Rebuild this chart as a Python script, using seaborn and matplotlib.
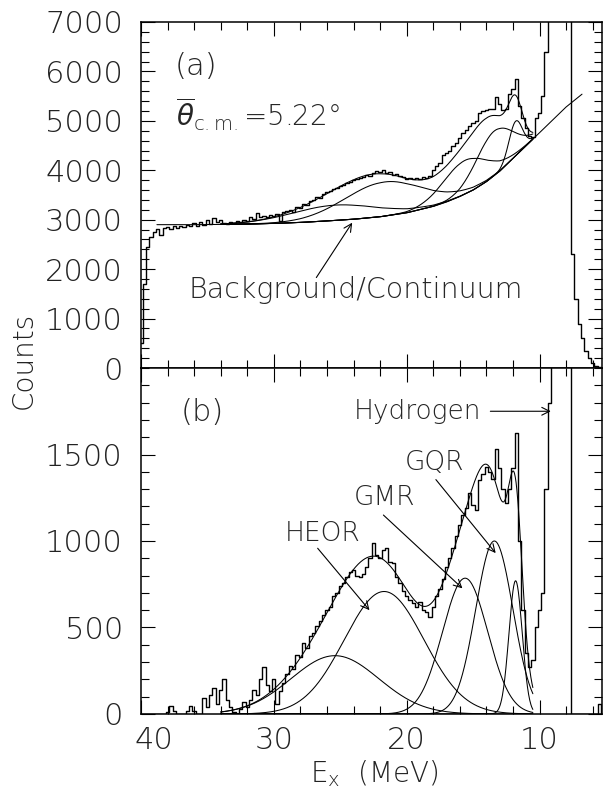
import numpy as np
import pandas as pd
import matplotlib
matplotlib.use("Agg")
import matplotlib.pyplot as plt
import seaborn as sns
from matplotlib.ticker import MultipleLocator, FixedLocator

sns.set_style("ticks")
plt.rcParams['font.family'] = ['DejaVu Sans']
plt.rcParams['font.weight'] = 'light'
plt.rcParams['mathtext.fontset'] = 'dejavusans'

# ---------------- data ----------------
# histogram bin centres (MeV), 40.0 down to 5.25 in 0.25 MeV steps
energy_bins = np.round(np.arange(40.0, 5.2, -0.25), 2)

# (a) raw spectrum counts, one row per MeV (4 bins each)
spectrum_a = [
    500, 1700, 2450, 2650,
    2750, 2820, 2700, 2830,
    2850, 2820, 2870, 2840,
    2880, 2860, 2900, 2870,
    2930, 2880, 2960, 2900,
    3000, 2920, 3040, 2950,
    2990, 2930, 2920, 2950,
    2930, 2970, 2950, 3000,
    2980, 3050, 3020, 3130,
    3060, 3080, 3050, 3100,
    3070, 3120, 2980, 3150,
    3180, 3200, 3160, 3260,
    3240, 3320, 3300, 3380,
    3400, 3450, 3430, 3520,
    3560, 3580, 3620, 3650,
    3680, 3700, 3750, 3760,
    3800, 3820, 3850, 3870,
    3900, 3890, 3940, 3990,
    3960, 4000, 3950, 3960,
    3900, 3920, 3880, 3860,
    3830, 3850, 3820, 3840,
    3830, 3860, 3850, 3880,
    4000, 4080, 4150, 4300,
    4340, 4400, 4500, 4560,
    4650, 4760, 4820, 4900,
    4950, 5000, 5150, 5200,
    5220, 5250, 5230, 5480,
    5350, 5220, 5230, 5550,
    5650, 5850, 5300, 5050,
    4850, 4700, 4680, 5050,
    5150, 5500, 6400, 7600,
    9000, 9000, 9000, 9000,
    9000, 9000, 2300, 1400,
    900, 600, 350, 200,
    100, 40, 15, 0,
]

# (b) background-subtracted spectrum counts
spectrum_b = [
    0, 0, 0, 0,
    0, 0, 0, 0,
    10, 45, 20, 0,
    0, 0, 15, 48,
    20, 0, 0, 90,
    40, 110, 150, 60,
    140, 200, 80, 40,
    10, 0, 30, 70,
    40, 80, 140, 110,
    200, 270, 170, 130,
    200, 60, 130, 180,
    230, 280, 260, 340,
    330, 410, 380, 450,
    470, 510, 540, 570,
    600, 620, 680, 700,
    740, 760, 790, 820,
    830, 800, 790, 810,
    850, 900, 990, 920,
    900, 950, 960, 880,
    870, 790, 760, 710,
    680, 660, 640, 620,
    650, 600, 590, 560,
    620, 680, 720, 780,
    850, 900, 960, 1030,
    1090, 1150, 1190, 1280,
    1210, 1180, 1350, 1390,
    1430, 1400, 1360, 1530,
    1420, 1300, 1220, 1300,
    1420, 1625, 1000, 600,
    350, 270, 310, 500,
    600, 700, 1300, 1800,
    5000, 5000, 5000, 5000,
    5000, 5000, 0, 0,
    0, 0, 0, 0,
    0, 0, 60, 0,
]

# background / continuum under (a)
bg_energy = [38.8, 36, 34, 32, 30, 28, 26, 24, 22, 20, 18, 17, 16, 15, 14,
             13, 12, 11, 10, 9, 8, 6.8]
bg_counts = [2900, 2900, 2905, 2912, 2925, 2945, 2975, 3010, 3060, 3140,
             3270, 3360, 3470, 3600, 3770, 3980, 4240, 4500, 4760, 5020,
             5280, 5540]

# fitted Gaussian components (centroid MeV, sigma MeV, heights)
fit_centroid = [25.4, 21.7, 15.6, 13.4, 11.8]
fit_sigma = [3.3, 3.0, 1.7, 1.4, 0.5]
fit_amp_a = [310, 690, 680, 900, 700]
fit_amp_b = [337, 708, 785, 1000, 770]
fit_range = [34.0, 10.5]

# ---------------- figure ----------------
fig = plt.figure(figsize=(6.1, 7.94), dpi=100)
ax_a = fig.add_axes([0.2311, 0.5365, 0.7557, 0.4358])
ax_b = fig.add_axes([0.2311, 0.1008, 0.7557, 0.4357])

lw_fit = 0.75
lw_spec = 1.0

Ef = np.linspace(fit_range[0], fit_range[1], 800)
bg_f = np.interp(Ef, bg_energy[::-1], bg_counts[::-1])
comps_a = [a * np.exp(-0.5 * ((Ef - c) / s) ** 2)
           for c, s, a in zip(fit_centroid, fit_sigma, fit_amp_a)]
comps_b = [a * np.exp(-0.5 * ((Ef - c) / s) ** 2)
           for c, s, a in zip(fit_centroid, fit_sigma, fit_amp_b)]

# ---- panel (a)
sns.lineplot(x=energy_bins, y=spectrum_a, ax=ax_a, color='black', lw=lw_spec,
             drawstyle='steps-mid', estimator=None, sort=False)
sns.lineplot(x=bg_energy, y=bg_counts, ax=ax_a, color='black', lw=lw_fit,
             estimator=None, sort=False)
for comp in comps_a:
    sns.lineplot(x=Ef, y=bg_f + comp, ax=ax_a, color='black', lw=lw_fit,
                 estimator=None, sort=False)
sns.lineplot(x=Ef, y=bg_f + np.sum(comps_a, axis=0), ax=ax_a, color='black',
             lw=lw_fit, estimator=None, sort=False)

# ---- panel (b)
sns.lineplot(x=energy_bins, y=spectrum_b, ax=ax_b, color='black', lw=lw_spec,
             drawstyle='steps-mid', estimator=None, sort=False)
for comp in comps_b:
    sns.lineplot(x=Ef, y=comp, ax=ax_b, color='black', lw=lw_fit,
                 estimator=None, sort=False)
sns.lineplot(x=Ef, y=np.sum(comps_b, axis=0), ax=ax_b, color='black',
             lw=lw_fit, estimator=None, sort=False)

# ---- axes styling
for ax in (ax_a, ax_b):
    ax.set_xlim(40, 5.3)
    ax.xaxis.set_major_locator(FixedLocator([40, 30, 20, 10]))
    ax.xaxis.set_minor_locator(MultipleLocator(2))
    ax.tick_params(which='both', direction='in', top=True, right=True,
                   width=0.8, color='black', labelsize=22, labelcolor='#222222')
    ax.tick_params(which='major', length=10)
    ax.tick_params(which='minor', length=5.5)
    ax.tick_params(axis='y', pad=13)
    ax.tick_params(axis='x', pad=8.5)
    for sp in ax.spines.values():
        sp.set_linewidth(1.1)
        sp.set_color('black')
        sp.set_visible(True)
    ax.set_xlabel('')
    ax.set_ylabel('')
    ax.grid(False)

ax_a.set_ylim(0, 7000)
ax_a.yaxis.set_major_locator(FixedLocator(list(range(0, 7001, 1000))))
ax_a.yaxis.set_minor_locator(MultipleLocator(200))
ax_a.tick_params(axis='x', labelbottom=False)

ax_b.set_ylim(0, 2000)
ax_b.yaxis.set_major_locator(FixedLocator([0, 500, 1000, 1500]))
ax_b.yaxis.set_minor_locator(MultipleLocator(100))
ax_b.set_xticklabels(['', '30', '20', '10'])
ax_b.annotate('40', xy=(40, 0), xycoords=('data', 'axes fraction'),
              xytext=(9.5, -8.5), textcoords='offset points',
              ha='center', va='top', fontsize=22, color='#222222')

# ---- texts panel (a)
ax_a.text(37.5, 6090, '(a)', fontsize=22, ha='left', va='center')
ax_a.text(37.4, 5130, r'$\overline{\theta}_{\rm c{.}m{.}}$=5.22°', fontsize=20,
          ha='left', va='center')
ax_a.text(36.4, 1580, 'Background/Continuum', fontsize=20.5, ha='left', va='center')
ax_a.annotate('', xy=(24.1, 2940), xytext=(26.8, 1830),
              arrowprops=dict(arrowstyle='->', lw=0.8, color='black',
                              shrinkA=0, shrinkB=0, mutation_scale=14))

# ---- texts panel (b)
ax_b.text(37.0, 1744, '(b)', fontsize=22, ha='left', va='center')
ax_b.text(23.95, 1750, 'Hydrogen', fontsize=19, ha='left', va='center')
ax_b.annotate('', xy=(9.15, 1750), xytext=(13.7, 1750),
              arrowprops=dict(arrowstyle='->', lw=0.8, color='black',
                              shrinkA=0, shrinkB=0, mutation_scale=14))
ax_b.text(29.2, 1046, 'HEOR', fontsize=19, ha='left', va='center')
ax_b.annotate('', xy=(22.8, 600), xytext=(26.7, 958),
              arrowprops=dict(arrowstyle='->', lw=0.8, color='black',
                              shrinkA=0, shrinkB=0, mutation_scale=14))
ax_b.text(23.95, 1250, 'GMR', fontsize=19, ha='left', va='center')
ax_b.annotate('', xy=(15.8, 726), xytext=(21.75, 1150),
              arrowprops=dict(arrowstyle='->', lw=0.8, color='black',
                              shrinkA=0, shrinkB=0, mutation_scale=14))
ax_b.text(20.15, 1453, 'GQR', fontsize=19, ha='left', va='center')
ax_b.annotate('', xy=(13.3, 930), xytext=(17.8, 1355),
              arrowprops=dict(arrowstyle='->', lw=0.8, color='black',
                              shrinkA=0, shrinkB=0, mutation_scale=14))

# ---- axis titles
fig.text(24 / 610, 1 - 360 / 794, 'Counts', rotation=90, fontsize=20,
         ha='center', va='center', color='#222222')
fig.text(374 / 610, 1 - 774 / 794, r'E$_{\rm x}$  (MeV)', fontsize=20,
         ha='center', va='center', color='#222222')

fig.savefig('out.png', dpi=100, facecolor='white')
